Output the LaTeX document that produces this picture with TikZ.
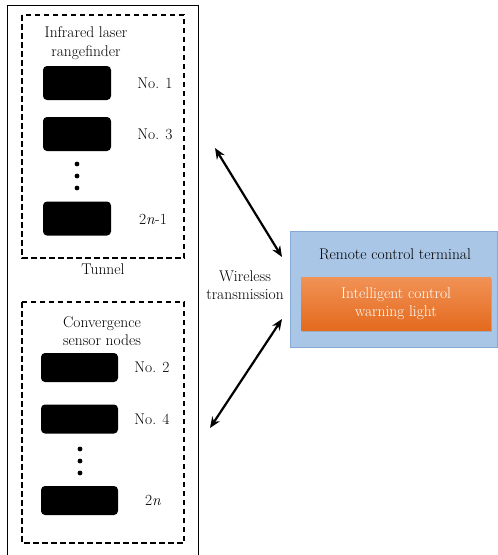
\documentclass[tikz,border=0pt]{standalone}
\usetikzlibrary{arrows.meta,shadows}
\definecolor{termblue}{RGB}{170,198,230}
\definecolor{termedge}{RGB}{135,170,212}
\definecolor{lamptop}{RGB}{241,146,86}
\definecolor{lampbot}{RGB}{228,106,30}
\begin{document}
\begin{tikzpicture}[x=1pt,y=-1pt,
  font=\fontsize{15.5}{18.5}\selectfont,
  unit/.style={fill=black,rounded corners=4pt,inner sep=0pt},
  grp/.style={draw,dash pattern=on 5.5pt off 3.5pt,line width=1.2pt},
  txt/.style={align=center,inner sep=0pt},
  link/.style={{Stealth[length=11pt,width=9pt]}-{Stealth[length=11pt,width=9pt]},line width=2.2pt}]
  \useasboundingbox (0,0) rectangle (498,555);
  % tunnel, open at the bottom
  \draw[line width=1pt] (7.5,555) -- (7.5,5) -- (198.5,5) -- (198.5,555);
  \node[txt] (tunnel) at (103,269) {Tunnel};
  % rangefinders
  \draw[grp] (22,15) rectangle (184,258);
  \node[txt] (rf) at (86,43) {Infrared laser\\rangefinder};
  \node[unit,minimum width=68pt,minimum height=34pt] (r1) at (77,83) {};
  \node[unit,minimum width=68pt,minimum height=34pt] (r3) at (77,134) {};
  \node[unit,minimum width=68pt,minimum height=34pt] (rn) at (77,218.5) {};
  \foreach \y in {164,176,188}
    \fill (77,\y) circle (2.4pt);
  \node[txt] (n1) at (155,83) {No. 1};
  \node[txt] (n3) at (155,134) {No. 3};
  \node[txt] (nn) at (153,219) {2\textit{n}-1};
  % sensor nodes
  \draw[grp] (22,302) rectangle (184,543);
  \node[txt] (sn) at (102,331) {Convergence\\sensor nodes};
  \node[unit,minimum width=77pt,minimum height=29pt] (s2) at (79.5,367.5) {};
  \node[unit,minimum width=77pt,minimum height=29pt] (s4) at (79.5,419) {};
  \node[unit,minimum width=77pt,minimum height=29pt] (sn2) at (79.5,500.5) {};
  \foreach \y in {449,461,473}
    \fill (80,\y) circle (2.4pt);
  \node[txt] (n2) at (152,367) {No. 2};
  \node[txt] (n4) at (152,419) {No. 4};
  \node[txt] (n2n) at (153,500) {2\textit{n}};
  % terminal
  \draw[termedge,fill=termblue,line width=0.6pt] (290,231) rectangle (497.7,347);
  \node[txt] (rct) at (395,254) {Remote control terminal};
  \node[txt,text=white,minimum width=190pt,minimum height=53pt,
    top color=lamptop,bottom color=lampbot,
    drop shadow={opacity=0.35,shadow xshift=1pt,shadow yshift=-1.5pt}]
    (lamp) at (396,303.5) {Intelligent control\\warning light};
  % wireless links
  \node[txt] (wt) at (245,285) {Wireless\\transmission};
  \coordinate (a1) at (215,148);
  \coordinate (b1) at (282,257);
  \coordinate (a2) at (282,319);
  \coordinate (b2) at (210,428);
  \draw[link] (a1) -- (b1);
  \draw[link] (a2) -- (b2);
\end{tikzpicture}
\end{document}
